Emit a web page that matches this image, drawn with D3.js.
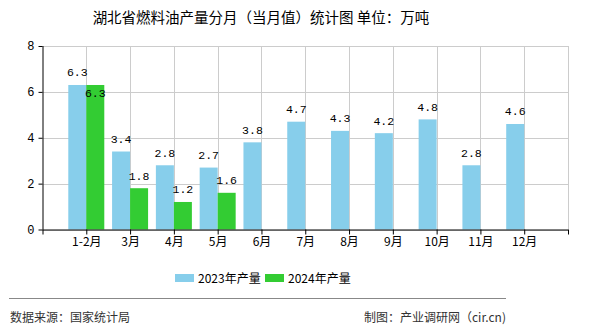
<!DOCTYPE html>
<html><head><meta charset="utf-8">
<script src="https://cdn.jsdelivr.net/npm/d3@7"></script>
<style>body{margin:0;background:#fff}svg{display:block}</style>
</head><body>
<script>
const categories = ["1-2月","3月","4月","5月","6月","7月","8月","9月","10月","11月","12月"];
const series2023 = [6.3,3.4,2.8,2.7,3.8,4.7,4.3,4.2,4.8,2.8,4.6];
const series2024 = [6.3,1.8,1.2,1.6,null,null,null,null,null,null,null];
const seriesNames = ["2023年产量","2024年产量"];
const yTicks = [0,2,4,6,8];
const colors = ["#87CEEB","#33CC33"];

const W=590,H=330;
const svg=d3.select("body").append("svg").attr("width",W).attr("height",H);
const cjk='"Noto Sans CJK SC","Noto Sans",sans-serif';
const mono='"Liberation Mono","DejaVu Sans Mono",monospace';

const L=42.5,R=568,T=46,B=229.5;
const x=d3.scaleLinear().domain([0,categories.length+1]).range([L,R]);
const y=d3.scaleLinear().domain([0,8]).range([B,T]);

svg.append("text").attr("x",261).attr("y",23).attr("text-anchor","middle")
  .attr("font-family",cjk).attr("font-size",14.5).attr("fill","#000")
  .text("湖北省燃料油产量分月（当月值）统计图 单位：万吨");

const g=svg.append("g");
g.selectAll("line.hg").data(yTicks).join("line")
  .attr("x1",L).attr("x2",R).attr("y1",d=>Math.round(y(d))+0.5).attr("y2",d=>Math.round(y(d))+0.5)
  .attr("stroke","#cccccc");
const vIdx=d3.range(1,categories.length+2);
g.selectAll("line.vg").data(vIdx).join("line")
  .attr("x1",d=>Math.round(x(d))+0.5).attr("x2",d=>Math.round(x(d))+0.5).attr("y1",T).attr("y2",B)
  .attr("stroke","#cccccc");

const bw=18;
const bars=[];
categories.forEach((c,i)=>{
  const has24=series2024[i]!=null;
  bars.push({s:0,i,v:series2023[i],x0:x(i+1)-bw});
  if(has24) bars.push({s:1,i,v:series2024[i],x0:x(i+1)});
});
g.selectAll("rect.bar").data(bars).join("rect")
  .attr("x",d=>d.x0).attr("width",bw)
  .attr("y",d=>y(d.v)).attr("height",d=>y(0)-y(d.v))
  .attr("fill",d=>colors[d.s]);

g.selectAll("text.lab").data(bars).join("text")
  .attr("x",d=>d.x0+bw/2)
  .attr("y",d=>{
    let yy=y(d.v)-8.5;
    if(d.s===1 && series2023[d.i]!=null && Math.abs(series2023[d.i]-d.v)<0.4) yy=y(d.v)+12.5;
    return yy;
  })
  .attr("text-anchor","middle").attr("font-family",mono).attr("font-size",11.5).attr("fill","#000")
  .text(d=>d.v.toFixed(1));

const ya=d3.axisLeft(y).tickValues(yTicks).tickSize(4).tickPadding(4).tickFormat(d3.format("d"));
const yg=svg.append("g").attr("transform",`translate(${L},0)`).call(ya);
yg.select(".domain").attr("stroke","#000").attr("d",`M0.5,${T}V${B}`);
yg.selectAll("text").attr("font-family",mono).attr("font-size",12).attr("fill","#000");

const xa=d3.axisBottom(x).tickValues(d3.range(0,categories.length+2)).tickSize(5).tickPadding(3)
  .tickFormat(d=>(d>=1&&d<=categories.length)?categories[d-1]:"");
const xg=svg.append("g").attr("transform",`translate(0,${B})`).call(xa);
xg.select(".domain").attr("stroke","#000").attr("d",`M${L},0.5H${R}`);
xg.selectAll("text").attr("font-family",cjk).attr("font-size",12).attr("fill","#000");

const lg=svg.append("g");
const lx=[175,265];
seriesNames.forEach((n,i)=>{
  lg.append("rect").attr("x",lx[i]).attr("y",274).attr("width",19).attr("height",8).attr("fill",colors[i]);
  lg.append("text").attr("x",lx[i]+23).attr("y",282.5).attr("font-family",cjk).attr("font-size",12).attr("fill","#000").text(n);
});

svg.append("line").attr("x1",9).attr("x2",506).attr("y1",298.5).attr("y2",298.5).attr("stroke","#888");
svg.append("text").attr("x",10).attr("y",322).attr("font-family",cjk).attr("font-size",12).attr("fill","#333").text("数据来源：国家统计局");
svg.append("text").attr("x",506).attr("y",322).attr("text-anchor","end").attr("font-family",cjk).attr("font-size",12).attr("fill","#333").text("制图：产业调研网（cir.cn)");
</script>
</body></html>
